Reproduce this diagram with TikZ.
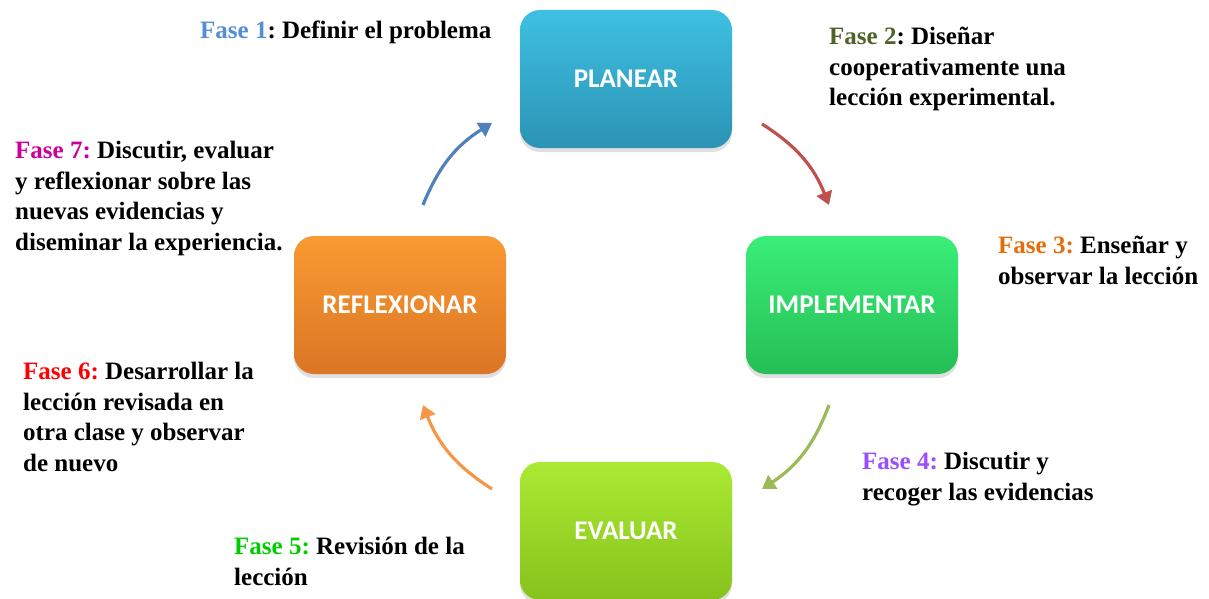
\documentclass[tikz,border=0pt]{standalone}
\usepackage{fontspec}
\setmainfont{Liberation Serif}
\newfontfamily\boxfont{Carlito}
\usetikzlibrary{arrows.meta,shadows}
\frenchspacing

\definecolor{planTop}{HTML}{3EC0E2}
\definecolor{planBot}{HTML}{2B93B4}
\definecolor{implTop}{HTML}{3AEE78}
\definecolor{implBot}{HTML}{25BE55}
\definecolor{evalTop}{HTML}{ABEA33}
\definecolor{evalBot}{HTML}{86C21C}
\definecolor{reflTop}{HTML}{F99A33}
\definecolor{reflBot}{HTML}{DB7624}
\definecolor{arrBlue}{HTML}{4F81BD}
\definecolor{arrRed}{HTML}{C0504D}
\definecolor{arrGreen}{HTML}{9BBB59}
\definecolor{arrOrange}{HTML}{F79646}
\definecolor{faseA}{HTML}{558ED5}
\definecolor{faseB}{HTML}{4F6228}
\definecolor{faseC}{HTML}{E46C0A}
\definecolor{faseD}{HTML}{9B4DFF}
\definecolor{faseE}{HTML}{00CC00}
\definecolor{faseF}{HTML}{FF0000}
\definecolor{faseG}{HTML}{CC0099}

\tikzset{
  phasebox/.style={rounded corners=20pt, minimum width=212pt, minimum height=138pt,
    text=white, font=\boxfont\fontsize{27}{30}\selectfont\bfseries,
    drop shadow={shadow xshift=0pt, shadow yshift=-4pt, opacity=0.25}},
  fasetext/.style={anchor=north west, align=left, inner sep=0pt,
    font=\fontsize{25}{30.5}\selectfont\bfseries},
  cyclearrow/.style={line width=3.2pt, bend left=18,
    -{Triangle[length=13pt,width=16pt]}}
}

\begin{document}
\begin{tikzpicture}[x=1pt,y=-1pt]
\useasboundingbox (0,0) rectangle (1209,599);

% the four stages
\node[phasebox, top color=planTop, bottom color=planBot] (planear) at (626,79) {PLANEAR};
\node[phasebox, top color=implTop, bottom color=implBot] (implementar) at (852,305) {IMPLEMENTAR};
\node[phasebox, top color=evalTop, bottom color=evalBot] (evaluar) at (626,531) {EVALUAR};
\node[phasebox, top color=reflTop, bottom color=reflBot] (reflexionar) at (400,305) {REFLEXIONAR};

% arrow ends
\coordinate (blueS) at (423,205);   \coordinate (blueE) at (492,123);
\coordinate (redS) at (762,124);    \coordinate (redE) at (829,205);
\coordinate (greenS) at (829,405);  \coordinate (greenE) at (762,489);
\coordinate (orangeS) at (492,489); \coordinate (orangeE) at (423,405);

\draw[cyclearrow, arrBlue] (blueS) to (blueE);
\draw[cyclearrow, arrRed] (redS) to (redE);
\draw[cyclearrow, arrGreen] (greenS) to (greenE);
\draw[cyclearrow, arrOrange] (orangeS) to (orangeE);

% phase descriptions
\node[fasetext] (fase1) at (200,21) {\textcolor{faseA}{Fase 1}: Definir el problema};
\node[fasetext] (fase2) at (829,27) {\textcolor{faseB}{Fase 2}: Diseñar\\cooperativamente una\\lección experimental.};
\node[fasetext] (fase3) at (998,236) {\textcolor{faseC}{Fase 3:} Enseñar y\\observar la lección};
\node[fasetext] (fase4) at (862,452) {\textcolor{faseD}{Fase 4:} Discutir y\\recoger las evidencias};
\node[fasetext] (fase5) at (234,537) {\textcolor{faseE}{Fase 5:} Revisión de la\\lección};
\node[fasetext] (fase6) at (23,362) {\textcolor{faseF}{Fase 6:} Desarrollar la\\lección revisada en\\otra clase y observar\\de nuevo};
\node[fasetext] (fase7) at (15,141) {\textcolor{faseG}{Fase 7:} Discutir, evaluar\\y reflexionar sobre las\\nuevas evidencias y\\diseminar la experiencia.};
\end{tikzpicture}
\end{document}
